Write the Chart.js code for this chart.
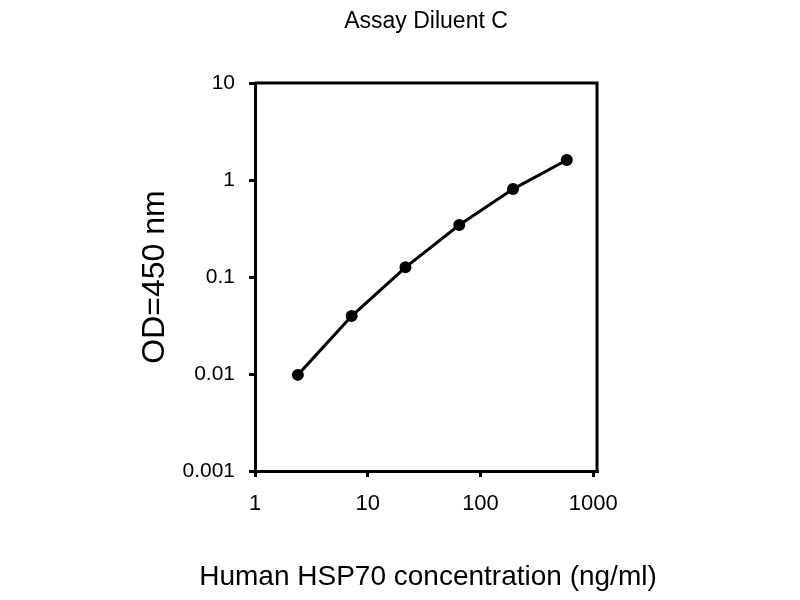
<!DOCTYPE html>
<html>
<head>
  <title>Assay Diluent C</title>
  <style>
    body { margin: 0; padding: 0; background: #fff; }
    #chart { display: block; }
  </style>
</head>
<body>

<canvas id="chart" width="800" height="600"></canvas>

<script src="https://cdn.jsdelivr.net/npm/chart.js"></script>
<script>
// values
const concentrations = [2.4, 7.2, 21.6, 64.8, 194.4, 583];
const odValues = [0.0098, 0.0396, 0.126, 0.344, 0.807, 1.61];
const xTicks = [1, 10, 100, 1000];
const yTicks = [0.001, 0.01, 0.1, 1, 10];

const chartTitle = 'Assay Diluent C';
const xTitle = 'Human HSP70 concentration (ng/ml)';
const yTitle = 'OD=450 nm';

const FONT = '"Liberation Sans", Arial, sans-serif';

// top and right edges of the plot box, plus the x title
// (the built-in scale title gets squeezed to the plot width)
const framePlugin = {
  id: 'frame',
  afterDraw(chart) {
    const a = chart.chartArea;
    const ctx = chart.ctx;
    ctx.save();
    ctx.strokeStyle = '#000';
    ctx.lineWidth = 3;
    ctx.beginPath();
    ctx.moveTo(a.left, a.top);
    ctx.lineTo(a.right, a.top);
    ctx.lineTo(a.right, a.bottom);
    ctx.stroke();

    ctx.fillStyle = '#000';
    ctx.font = '28px ' + FONT;
    ctx.textAlign = 'center';
    ctx.textBaseline = 'middle';
    ctx.fillText(xTitle, (a.left + a.right) / 2 + 2, 577);
    ctx.restore();
  }
};

new Chart(document.getElementById('chart').getContext('2d'), {
  type: 'line',
  data: {
    datasets: [{
      data: concentrations.map((x, i) => ({ x: x, y: odValues[i] })),
      borderColor: '#000',
      backgroundColor: '#000',
      borderWidth: 3,
      pointRadius: 4.5,
      pointBackgroundColor: '#000',
      pointBorderColor: '#000',
      tension: 0,
      fill: false
    }]
  },
  options: {
    responsive: false,
    animation: false,
    devicePixelRatio: 1,
    layout: { padding: { left: 130, right: 203, top: 0, bottom: 0 } },
    plugins: {
      legend: { display: false },
      tooltip: { enabled: false },
      title: {
        display: true,
        text: chartTitle,
        fullSize: false,
        color: '#000',
        font: { family: FONT, size: 23, weight: 'normal' },
        padding: { top: 7.5, bottom: 48 }
      }
    },
    scales: {
      x: {
        type: 'logarithmic',
        min: 1,
        max: 1080,
        afterBuildTicks: s => { s.ticks = xTicks.map(v => ({ value: v })); },
        afterFit: s => { s.height = 129; },
        grid: { display: true, drawOnChartArea: false, drawTicks: true, tickLength: 6, color: '#000', lineWidth: 3 },
        border: { display: true, color: '#000', width: 3 },
        ticks: {
          autoSkip: false,
          maxRotation: 0,
          padding: 14,
          color: '#000',
          font: { family: FONT, size: 22 },
          callback: v => String(v)
        },
        title: { display: false }
      },
      y: {
        type: 'logarithmic',
        min: 0.001,
        max: 10,
        afterBuildTicks: s => { s.ticks = yTicks.map(v => ({ value: v })); },
        afterFit: s => { s.width = 125; },
        grid: { display: true, drawOnChartArea: false, drawTicks: true, tickLength: 6, color: '#000', lineWidth: 3 },
        border: { display: true, color: '#000', width: 3 },
        ticks: {
          autoSkip: false,
          padding: 14,
          color: '#000',
          font: { family: FONT, size: 21 },
          callback: v => String(v)
        },
        title: {
          display: true,
          text: yTitle,
          color: '#000',
          font: { family: FONT, size: 32 },
          padding: { top: 6, bottom: 0 }
        }
      }
    }
  },
  plugins: [framePlugin]
});
</script>

</body>
</html>
